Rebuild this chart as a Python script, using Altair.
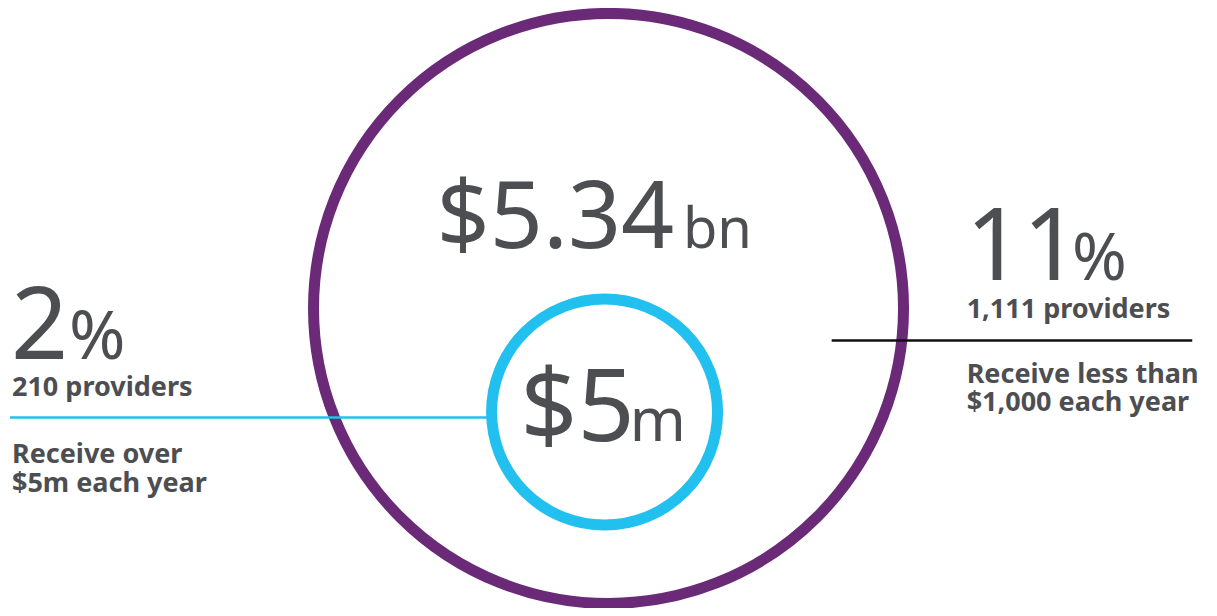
import altair as alt
import pandas as pd

# ---------------- data ----------------
totals = ["$5.34", "$5"]
total_units = ["bn", "m"]
shares = ["2", "11"]
share_unit = "%"
provider_counts = ["210 providers", "1,111 providers"]
descriptions = [["Receive over", "$5m each year"],
                ["Receive less than", "$1,000 each year"]]

# ---------------- layout (reference pixel space) ----------------
W, H = 1217, 616
GRAY = "#4d4e52"
PURPLE = "#6b2a78"
CYAN = "#22c0ee"
FONT = "Noto Sans"

circle_pos = {"cx": [607.5, 603.5], "cy": [309, 422], "diam": [590, 226],
              "color": [PURPLE, CYAN]}
circles = pd.DataFrame({**circle_pos, "size": [d * d for d in circle_pos["diam"]]})

big_text = pd.DataFrame({
    "label": [totals[0], total_units[0], totals[1], total_units[1],
              shares[0], share_unit, shares[1], share_unit],
    "x": [433, 683, 518, 629, 1, 60, 970, 1078],
    "y": [243, 243, 454, 454, 364, 364, 278, 278],
    "fs": [93, 56, 100, 60, 100, 68, 100, 66],
})

bold_text = pd.DataFrame({
    "label": [provider_counts[0], descriptions[0][0], descriptions[0][1],
              provider_counts[1], descriptions[1][0], descriptions[1][1]],
    "x": [2, 2, 2, 971, 971, 971],
    "y": [404, 478, 509, 319, 390, 421],
})

rules = pd.DataFrame({
    "x": [0, 834], "x2": [486, 1200], "y": [428, 344],
    "color": [CYAN, "#111111"],
})

# ---------------- chart ----------------
xs = alt.Scale(domain=[0, W], nice=False, zero=False)
ys = alt.Scale(domain=[0, H], nice=False, zero=False, reverse=True)

circ = alt.Chart(circles).mark_point(shape="circle", filled=False, strokeWidth=11, opacity=1).encode(
    x=alt.X("cx:Q", scale=xs, axis=None),
    y=alt.Y("cy:Q", scale=ys, axis=None),
    size=alt.Size("size:Q", scale=None, legend=None),
    color=alt.Color("color:N", scale=None, legend=None),
)

lines = alt.Chart(rules).mark_rule(strokeWidth=2.5).encode(
    x=alt.X("x:Q", scale=xs, axis=None),
    x2="x2:Q",
    y=alt.Y("y:Q", scale=ys, axis=None),
    color=alt.Color("color:N", scale=None, legend=None),
)

big = alt.Chart(big_text).mark_text(font=FONT, fontWeight="normal", align="left",
                                    baseline="alphabetic", color=GRAY).encode(
    x=alt.X("x:Q", scale=xs, axis=None),
    y=alt.Y("y:Q", scale=ys, axis=None),
    text="label:N",
    size=alt.Size("fs:Q", scale=None, legend=None),
)

bold = alt.Chart(bold_text).mark_text(font=FONT, fontWeight="bold", fontSize=27, align="left",
                                      baseline="alphabetic", color=GRAY).encode(
    x=alt.X("x:Q", scale=xs, axis=None),
    y=alt.Y("y:Q", scale=ys, axis=None),
    text="label:N",
)

chart = alt.layer(circ, lines, big, bold).properties(
    width=1201, height=600, padding=0, background="white",
    autosize=alt.AutoSizeParams(type="fit", contains="padding"),
).configure_view(strokeWidth=0)

chart.save("out.html", embed_options={"renderer": "svg", "actions": False})
